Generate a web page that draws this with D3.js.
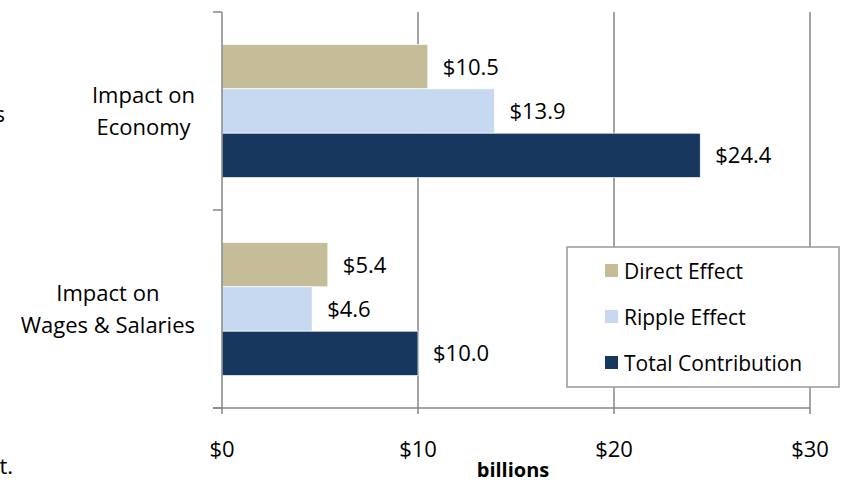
<!DOCTYPE html>
<html>
<head>
<meta charset="utf-8">
<script src="https://cdn.jsdelivr.net/npm/d3@7"></script>
<style>
body{margin:0;background:#fff}
svg{display:block;font-family:"Open Sans",Lato,sans-serif}
</style>
</head>
<body>
<svg width="846" height="483"></svg>
<script>
// ===== DATA =====
const categories = ["Impact on\nEconomy","Impact on\nWages & Salaries"]
const seriesNames = ["Direct Effect","Ripple Effect","Total Contribution"]
const directVals = [10.5, 5.4]
const rippleVals = [13.9, 4.6]
const totalVals = [24.4, 10.0]
const xTicks = [0,10,20,30]
const colors = ["#C4BD97","#C6D9F1","#17375E"]

const series = [directVals, rippleVals, totalVals]

const svg = d3.select("svg")
const plotL = 222, plotR = 810, plotT = 12, plotB = 408

// SCALES
const x = d3.scaleLinear().domain([0,30]).range([plotL,plotR])
const y0 = d3.scaleBand().domain(categories).range([plotT,plotB])
const y1 = d3.scaleBand().domain(seriesNames).range([0,y0.bandwidth()])
  .paddingInner(0).paddingOuter(0.73)

// GRID
svg.append("g")
.selectAll("line")
.data(xTicks.slice(1))
.enter().append("line")
.attr("x1",d=>x(d)).attr("x2",d=>x(d))
.attr("y1",plotT).attr("y2",plotB+6)
.attr("stroke","#868686").attr("stroke-width",1.5)

// BARS
const g = svg.selectAll(".cat")
.data(categories)
.enter().append("g")
.attr("transform",c=>`translate(0,${y0(c)})`)

g.selectAll("rect")
.data((c,i)=>seriesNames.map((s,j)=>({s, v:series[j][i], j})))
.enter().append("rect")
.attr("x",plotL)
.attr("y",d=>y1(d.s))
.attr("width",d=>x(d.v)-plotL)
.attr("height",y1.bandwidth())
.attr("fill",d=>colors[d.j])
.attr("stroke","#fff").attr("stroke-width",0.7)

g.selectAll("text.val")
.data((c,i)=>seriesNames.map((s,j)=>({s, v:series[j][i], j})))
.enter().append("text")
.attr("class","val")
.attr("x",d=>x(d.v)+15)
.attr("y",d=>y1(d.s)+y1.bandwidth()/2)
.attr("dy","0.36em")
.attr("font-size",22)
.attr("fill","#000")
.text(d=>"$"+d.v.toFixed(1))

// AXES
svg.append("line")
.attr("x1",plotL).attr("x2",plotL).attr("y1",plotT).attr("y2",plotB)
.attr("stroke","#868686").attr("stroke-width",1.5)
svg.append("line")
.attr("x1",plotL-9).attr("x2",plotR).attr("y1",plotB).attr("y2",plotB)
.attr("stroke","#868686").attr("stroke-width",1.5)

// category ticks
svg.append("g").selectAll("line")
.data([plotT, y0(categories[1]), plotB])
.enter().append("line")
.attr("x1",plotL-9).attr("x2",plotL).attr("y1",d=>d).attr("y2",d=>d)
.attr("stroke","#868686").attr("stroke-width",1.5)

svg.append("line")
.attr("x1",plotL).attr("x2",plotL).attr("y1",plotB).attr("y2",plotB+6)
.attr("stroke","#868686").attr("stroke-width",1.5)

// x tick labels
svg.append("g").selectAll("text")
.data(xTicks)
.enter().append("text")
.attr("x",d=>x(d)).attr("y",457)
.attr("text-anchor","middle")
.attr("font-size",22)
.text(d=>"$"+d)

svg.append("text")
.attr("x",513).attr("y",477)
.attr("text-anchor","middle")
.attr("font-size",20)
.attr("font-weight","bold")
.text("billions")

// category labels
categories.forEach(c=>{
  const lines = c.split("\n")
  const t = svg.append("text")
  .attr("text-anchor","middle")
  .attr("font-size",22)
  const mid = y0(c)+y0.bandwidth()/2
  lines.forEach((l,i)=>{
    t.append("tspan").attr("x",0).attr("y",mid + (i-0.5)*32 + 8).text(l)
  })
  let w = 0
  t.selectAll("tspan").each(function(){ w = Math.max(w,this.getComputedTextLength()) })
  t.selectAll("tspan").attr("x",195 - w/2)
})

// LEGEND
const legend = svg.append("g").attr("transform","translate(567,247)")
legend.append("rect")
.attr("width",272).attr("height",140)
.attr("fill","#fff").attr("stroke","#999").attr("stroke-width",1.5)

seriesNames.forEach((s,i)=>{
  legend.append("rect")
  .attr("x",38).attr("y",17+i*46)
  .attr("width",13).attr("height",13)
  .attr("fill",colors[i])
  legend.append("text")
  .attr("x",57).attr("y",24+i*46)
  .attr("dy","0.36em")
  .attr("font-size",21)
  .text(s)
})

// stray cut-off text at the left edge
svg.append("text").attr("x",5).attr("y",122).attr("text-anchor","end").attr("font-size",22).text("s")
svg.append("text").attr("x",13).attr("y",474).attr("text-anchor","end").attr("font-size",22).text("t.")
</script>
</body>
</html>
